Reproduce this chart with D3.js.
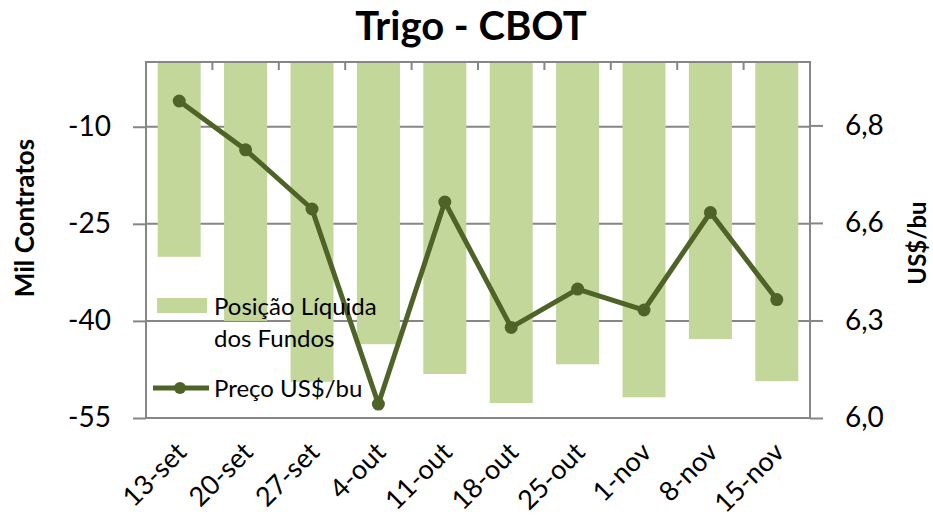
<!DOCTYPE html>
<html>
<head>
<meta charset="utf-8">
<script src="https://cdn.jsdelivr.net/npm/d3@7"></script>
<style>
  body { margin: 0; background: #fff; }
  svg { display: block; font-family: Lato, "Open Sans", sans-serif; }
</style>
</head>
<body>
<div id="chart"></div>
<script>
// weekly data
const categories = ["13-set", "20-set", "27-set", "4-out", "11-out", "18-out", "25-out", "1-nov", "8-nov", "15-nov"];
const netPosition = [-30.1, -40.0, -49.4, -43.6, -48.2, -52.7, -46.7, -51.8, -42.8, -49.3];
const price = [6.91, 6.77, 6.60, 6.04, 6.62, 6.26, 6.37, 6.31, 6.59, 6.34];
const leftTicks = [-10, -25, -40, -55];
const rightTicks = [6.0, 6.28, 6.56, 6.84];

const barColor = "#c4d79b";
const lineColor = "#4f6228";
const axisColor = "#868686";

const width = 933, height = 520;
const plot = { left: 146, right: 810, top: 62, bottom: 418 };

const svg = d3.select("#chart")
    .append("svg")
    .attr("width", width)
    .attr("height", height);

const x = d3.scaleBand()
    .domain(categories)
    .range([plot.left, plot.right])
    .paddingInner(0.352)
    .paddingOuter(0.176);

const yLeft = d3.scaleLinear().domain([-55, 0]).range([plot.bottom, plot.top]);
const yRight = d3.scaleLinear().domain([6.0, 7.022]).range([plot.bottom, plot.top]);

// gridlines (behind the bars)
svg.append("g")
    .selectAll("line")
    .data(leftTicks.slice(0, 3))
    .enter()
    .append("line")
    .attr("x1", plot.left)
    .attr("x2", plot.right)
    .attr("y1", d => yLeft(d))
    .attr("y2", d => yLeft(d))
    .attr("stroke", axisColor)
    .attr("stroke-width", 2);

// bars hang down from zero
svg.append("g")
    .selectAll("rect")
    .data(netPosition)
    .enter()
    .append("rect")
    .attr("x", (d, i) => x(categories[i]))
    .attr("y", yLeft(0))
    .attr("width", x.bandwidth())
    .attr("height", d => yLeft(d) - yLeft(0))
    .attr("fill", barColor);

// left axis (plain hyphen, not unicode minus)
const leftAxis = svg.append("g")
    .attr("transform", `translate(${plot.left},0)`)
    .call(d3.axisLeft(yLeft).tickValues(leftTicks).tickFormat(d => String(d))
        .tickSize(13).tickPadding(22).tickSizeOuter(0));
leftAxis.select(".domain").remove();

// right axis
const fmt = d => d3.format(".1f")(d).replace(".", ",");
const rightAxis = svg.append("g")
    .attr("transform", `translate(${plot.right},0)`)
    .call(d3.axisRight(yRight).tickValues(rightTicks).tickFormat(fmt)
        .tickSize(13).tickPadding(22).tickSizeOuter(0));
rightAxis.select(".domain").remove();

[leftAxis, rightAxis].forEach(g => {
    g.selectAll("line").attr("stroke", axisColor).attr("stroke-width", 2);
    g.selectAll("text")
        .style("font-size", "28px")
        .style("font-family", "Lato, 'Open Sans', sans-serif")
        .attr("fill", "#000");
});

// category ticks on the zero line (top)
const boundaries = categories.slice(1).map(c => x(c) - x.step() * x.paddingInner() / 2);
svg.append("g")
    .selectAll("line")
    .data(boundaries)
    .enter()
    .append("line")
    .attr("x1", d => d)
    .attr("x2", d => d)
    .attr("y1", plot.top)
    .attr("y2", plot.top + 8)
    .attr("stroke", axisColor)
    .attr("stroke-width", 2);

// plot frame
svg.append("rect")
    .attr("x", plot.left)
    .attr("y", plot.top)
    .attr("width", plot.right - plot.left)
    .attr("height", plot.bottom - plot.top)
    .attr("fill", "none")
    .attr("stroke", axisColor)
    .attr("stroke-width", 2);

// price line
const line = d3.line()
    .x((d, i) => x(categories[i]) + x.bandwidth() / 2)
    .y(d => yRight(d));

svg.append("path")
    .datum(price)
    .attr("d", line)
    .attr("fill", "none")
    .attr("stroke", lineColor)
    .attr("stroke-width", 5)
    .attr("stroke-linejoin", "round");

svg.append("g")
    .selectAll("circle")
    .data(price)
    .enter()
    .append("circle")
    .attr("cx", (d, i) => x(categories[i]) + x.bandwidth() / 2)
    .attr("cy", d => yRight(d))
    .attr("r", 6.5)
    .attr("fill", lineColor);

// category labels, rotated
svg.append("g")
    .selectAll("text")
    .data(categories)
    .enter()
    .append("text")
    .attr("transform", d => `translate(${x(d) + x.bandwidth() / 2 + 9},454) rotate(-45)`)
    .attr("text-anchor", "end")
    .style("font-size", "27px")
    .text(d => d);

// title and axis titles
svg.append("text")
    .attr("x", 471)
    .attr("y", 40)
    .attr("text-anchor", "middle")
    .style("font-size", "40px")
    .style("font-weight", "bold")
    .text("Trigo - CBOT");

svg.append("text")
    .attr("transform", "translate(34,218) rotate(-90)")
    .attr("text-anchor", "middle")
    .style("font-size", "26px")
    .style("font-weight", "bold")
    .text("Mil Contratos");

svg.append("text")
    .attr("transform", "translate(926,243) rotate(-90)")
    .attr("text-anchor", "middle")
    .style("font-size", "24px")
    .style("font-weight", "bold")
    .text("US$/bu");

// legend
const legend = svg.append("g");
legend.append("rect")
    .attr("x", 157).attr("y", 298)
    .attr("width", 50).attr("height", 15)
    .attr("fill", barColor);
legend.append("text")
    .attr("x", 214).attr("y", 315)
    .style("font-size", "24px")
    .text("Posição Líquida");
legend.append("text")
    .attr("x", 214).attr("y", 347)
    .style("font-size", "24px")
    .text("dos Fundos");
legend.append("line")
    .attr("x1", 153).attr("x2", 209)
    .attr("y1", 388).attr("y2", 388)
    .attr("stroke", lineColor)
    .attr("stroke-width", 5);
legend.append("circle")
    .attr("cx", 180).attr("cy", 388).attr("r", 6)
    .attr("fill", lineColor);
legend.append("text")
    .attr("x", 214).attr("y", 397)
    .style("font-size", "24px")
    .text("Preço US$/bu");
</script>
</body>
</html>
